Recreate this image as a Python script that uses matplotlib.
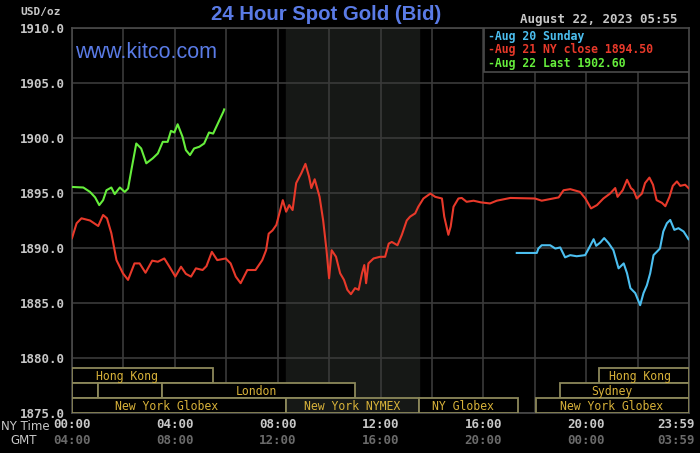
import matplotlib
matplotlib.use("Agg")
import matplotlib.pyplot as plt
from matplotlib.patches import Rectangle
import matplotlib.transforms as mtransforms

# ---------------- data ----------------
green_t = [0.0, 0.44, 0.7, 0.9, 1.06, 1.21, 1.34, 1.53, 1.66, 1.86, 2.05, 2.18, 2.31, 2.5, 2.69,
           2.89, 3.14, 3.34, 3.53, 3.72, 3.85, 3.98, 4.11, 4.3, 4.43, 4.59, 4.75, 4.95, 5.14,
           5.33, 5.49, 5.65, 5.89, 5.92]
green_p = [1895.55, 1895.5, 1895.1, 1894.6, 1893.9, 1894.35, 1895.25, 1895.5, 1894.9, 1895.5,
           1895.1, 1895.4, 1897.1, 1899.5, 1899.05, 1897.7, 1898.15, 1898.6, 1899.65, 1899.65,
           1900.65, 1900.5, 1901.25, 1900.1, 1898.9, 1898.45, 1899.05, 1899.2, 1899.5, 1900.5,
           1900.4, 1901.2, 1902.4, 1902.6]

red_t = [0.0, 0.18, 0.37, 0.7, 1.02, 1.21, 1.36, 1.53, 1.73, 1.98, 2.18, 2.43, 2.63, 2.86, 3.12,
         3.34, 3.59, 3.79, 4.02, 4.24, 4.43, 4.63, 4.82, 5.08, 5.23, 5.44, 5.65, 5.98, 6.17, 6.37,
         6.56, 6.82, 7.14, 7.4, 7.55, 7.65, 7.8, 7.95, 8.2, 8.33, 8.45, 8.58, 8.72, 8.92, 9.08,
         9.22, 9.31, 9.44, 9.63, 9.77, 9.9, 10.0, 10.1, 10.27, 10.43, 10.58, 10.71, 10.85, 11.01,
         11.15, 11.28, 11.37, 11.44, 11.53, 11.73, 11.98, 12.18, 12.32, 12.44, 12.66, 12.83,
         13.02, 13.15, 13.35, 13.47, 13.67, 13.94, 14.13, 14.39, 14.48, 14.64, 14.73, 14.84,
         15.03, 15.16, 15.35, 15.62, 15.9, 16.26, 16.52, 17.05, 18.01, 18.27, 18.6, 18.93, 19.12,
         19.38, 19.76, 19.97, 20.19, 20.42, 20.67, 20.93, 21.13, 21.22, 21.42, 21.59, 21.74,
         21.84, 21.97, 22.17, 22.29, 22.46, 22.6, 22.74, 22.95, 23.08, 23.24, 23.37, 23.53,
         23.66, 23.85, 23.98]
red_p = [1890.9, 1892.25, 1892.7, 1892.5, 1892.0, 1893.0, 1892.7, 1891.35, 1888.9, 1887.7, 1887.1,
         1888.6, 1888.6, 1887.75, 1888.85, 1888.75, 1889.05, 1888.3, 1887.4, 1888.3, 1887.65,
         1887.4, 1888.15, 1888.0, 1888.35, 1889.65, 1888.9, 1889.05, 1888.6, 1887.4, 1886.8,
         1888.0, 1888.0, 1888.9, 1889.8, 1891.3, 1891.6, 1892.1, 1894.35, 1893.3, 1893.9,
         1893.45, 1895.9, 1896.8, 1897.65, 1896.5, 1895.45, 1896.25, 1894.65, 1892.5, 1889.8,
         1887.25, 1889.8, 1889.2, 1887.7, 1887.1, 1886.2, 1885.8, 1886.35, 1886.2, 1887.7,
         1888.45, 1886.8, 1888.6, 1889.05, 1889.2, 1889.2, 1890.4, 1890.55, 1890.25, 1891.2,
         1892.5, 1892.85, 1893.15, 1893.75, 1894.5, 1894.95, 1894.65, 1894.5, 1892.85, 1891.2,
         1891.95, 1893.75, 1894.5, 1894.55, 1894.2, 1894.3, 1894.15, 1894.05, 1894.3, 1894.55,
         1894.5, 1894.3, 1894.45, 1894.6, 1895.25, 1895.35, 1895.1, 1894.5, 1893.6, 1893.9,
         1894.5, 1894.95, 1895.45, 1894.65, 1895.25, 1896.2, 1895.45, 1895.25, 1894.5, 1894.95,
         1895.9, 1896.4, 1895.75, 1894.35, 1894.1, 1893.8, 1894.65, 1895.65, 1896.05, 1895.65,
         1895.75, 1895.45]

blue_t = [17.3, 18.08, 18.14, 18.27, 18.6, 18.8, 18.99, 19.18, 19.38, 19.63, 19.96, 20.1, 20.29,
          20.39, 20.55, 20.7, 20.87, 21.06, 21.26, 21.46, 21.59, 21.72, 21.91, 22.1, 22.23,
          22.36, 22.49, 22.62, 22.87, 23.0, 23.14, 23.27, 23.43, 23.59, 23.79, 23.98]
blue_p = [1889.55, 1889.55, 1889.95, 1890.25, 1890.25, 1889.95, 1890.05, 1889.15, 1889.35,
          1889.25, 1889.35, 1889.95, 1890.8, 1890.2, 1890.5, 1890.9, 1890.45, 1889.8, 1888.15,
          1888.6, 1887.7, 1886.35, 1885.9, 1884.8, 1885.9, 1886.6, 1887.7, 1889.35, 1889.95,
          1891.5, 1892.25, 1892.55, 1891.65, 1891.8, 1891.5, 1890.8]

legend_labels = ["-Aug 20 Sunday", "-Aug 21 NY close 1894.50", "-Aug 22 Last 1902.60"]

y_ticks = [1875, 1880, 1885, 1890, 1895, 1900, 1905, 1910]
ny_ticks = [0, 4, 8, 12, 16, 20]
ny_labels = ["00:00", "04:00", "08:00", "12:00", "16:00", "20:00"]
gmt_labels = ["04:00", "08:00", "12:00", "16:00", "20:00", "00:00"]

nymex_start, nymex_end = 8.33, 13.5

# sessions: (row, start, end, label, label centre)
sessions = [
    (2, 0.0, 5.5, "Hong Kong", 2.14),
    (2, 20.5, 24.0, "Hong Kong", 22.1),
    (1, 0.0, 1.0, "", 0.5),
    (1, 1.0, 3.5, "", 2.25),
    (1, 3.5, 11.0, "London", 7.16),
    (1, 19.0, 24.0, "Sydney", 21.0),
    (0, 0.0, 8.33, "New York Globex", 3.66),
    (0, 8.33, 13.5, "New York NYMEX", 10.9),
    (0, 13.5, 17.35, "NY Globex", 15.2),
    (0, 18.05, 24.0, "New York Globex", 21.0),
]

# ---------------- style ----------------
BG = "#000000"
GRID = "#3a3a3a"
MONO = "DejaVu Sans Mono"
BLUE_T = "#5a7be6"
C_BLUE = "#4cbff0"
C_RED = "#e8392a"
C_GREEN = "#66ee3c"
GOLD = "#d8b23a"
BOXEDGE = "#8c885a"

fig = plt.figure(figsize=(7, 4.53), dpi=100, facecolor=BG)
ax = fig.add_axes([72 / 700, 40 / 453, 617 / 700, 385 / 453])
ax.set_facecolor(BG)
ax.set_xlim(0, 24)
ax.set_ylim(1875, 1910)

# shaded NYMEX session
ax.axvspan(nymex_start, nymex_end, color="#161816", zorder=0)

# grid
for h in range(0, 25, 2):
    ax.axvline(h, color=GRID, lw=1.2, zorder=1)
for y in y_ticks:
    ax.axhline(y, color=GRID, lw=1.2, zorder=1)

for s in ax.spines.values():
    s.set_color("#4a4a4a")
    s.set_linewidth(1.2)

# sessions
row_edges = [1875.0, 1876.36, 1877.72, 1879.05]
for row, a, b, lab, lc in sessions:
    y0, y1 = row_edges[row], row_edges[row + 1]
    fill = "#161816" if (a >= nymex_start and b <= nymex_end + 0.01) else BG
    ax.add_patch(Rectangle((a, y0), b - a, y1 - y0, facecolor=fill, edgecolor=BOXEDGE,
                           lw=1.3, zorder=3))
    if lab:
        ax.text(lc, (y0 + y1) / 2 - 0.05, lab, color=GOLD, fontsize=8.3, family=MONO,
                ha="center", va="center", zorder=4)

# curves
ax.plot(red_t, red_p, color=C_RED, lw=1.5, zorder=5)
ax.plot(blue_t, blue_p, color=C_BLUE, lw=1.5, zorder=5)
ax.plot(green_t, green_p, color=C_GREEN, lw=1.5, zorder=6)

# legend box
lx0 = (484 - 72) / 617 * 24
ax.add_patch(Rectangle((lx0, 1906.0), 24 - lx0, 4.0, facecolor=BG, edgecolor="#4a4a4a",
                       lw=1.2, zorder=7))
for lab, col, yy in zip(legend_labels, [C_BLUE, C_RED, C_GREEN], [1909.25, 1908.05, 1906.8]):
    ax.text(lx0 + 0.15, yy, lab, color=col, fontsize=8.3, family=MONO, weight="bold",
            ha="left", va="center", zorder=8)

# axes ticks
ax.set_xticks([])
ax.set_yticks(y_ticks)
ax.set_yticklabels([f"{v:.1f}" for v in y_ticks], color="#c8c8c8", family=MONO,
                   fontsize=9, weight="bold")
ax.tick_params(axis="y", length=0, pad=5)

trans = mtransforms.blended_transform_factory(ax.transData, fig.transFigure)
for h, l1, l2 in zip(ny_ticks, ny_labels, gmt_labels):
    ax.text(h, 1 - 425 / 453, l1, transform=trans, color="#c8c8c8", family=MONO,
            fontsize=9, weight="bold", ha="center", va="center")
    ax.text(h, 1 - 441 / 453, l2, transform=trans, color="#6a6a6a", family=MONO,
            fontsize=9, weight="bold", ha="center", va="center")
ax.text(23.5, 1 - 425 / 453, "23:59", transform=trans, color="#c8c8c8", family=MONO,
        fontsize=9, weight="bold", ha="center", va="center")
ax.text(23.5, 1 - 441 / 453, "03:59", transform=trans, color="#6a6a6a", family=MONO,
        fontsize=9, weight="bold", ha="center", va="center")

fig.text(1 / 700, 1 - 426 / 453, "NY Time", color="#c8c8c8", family="Liberation Sans Narrow",
         fontsize=8.5, ha="left", va="center")
fig.text(10 / 700, 1 - 440 / 453, "GMT", color="#c8c8c8", family="Liberation Sans Narrow",
         fontsize=8.5, ha="left", va="center")

# titles
fig.text(326 / 700, 1 - 15 / 453, "24 Hour Spot Gold (Bid)", color=BLUE_T,
         family="Liberation Sans", fontsize=14.7, weight="bold", ha="center", va="center")
fig.text(75 / 700, 1 - 52 / 453, "www.kitco.com", color=BLUE_T, family="Liberation Sans",
         fontsize=15.5, ha="left", va="center")
fig.text(20 / 700, 1 - 12 / 453, "USD/oz", color="#c8c8c8", family=MONO, fontsize=8,
         weight="bold", ha="left", va="center")
fig.text(677 / 700, 1 - 20 / 453, "August 22, 2023 05:55", color="#c8c8c8", family=MONO,
         fontsize=9, weight="bold", ha="right", va="center")

fig.savefig("out.png", dpi=100, facecolor=BG)
